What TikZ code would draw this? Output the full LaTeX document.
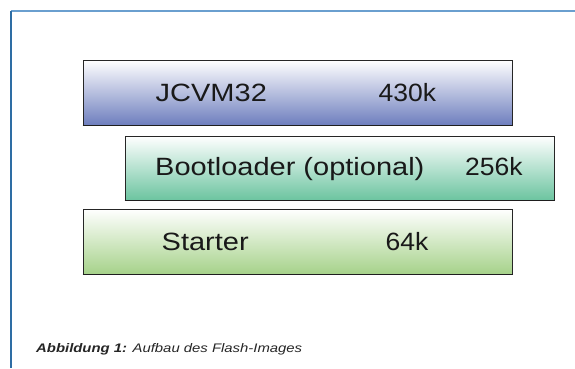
\documentclass[tikz,border=0pt]{standalone}
\usepackage{fontspec}
\setmainfont{Liberation Sans}
\newfontfamily\boxfont[FakeStretch=1.16]{Liberation Sans}
\newfontfamily\numfont[FakeStretch=1.06]{Liberation Sans}
\newfontfamily\capfont[FakeStretch=1.2]{Liberation Sans}
\definecolor{framecol}{HTML}{2E6DA4}
\definecolor{frametop}{HTML}{6A9FCF}
\definecolor{blueB}{HTML}{6E7EBE}
\definecolor{tealB}{HTML}{6CC4A0}
\definecolor{greenB}{HTML}{A6D28A}
\definecolor{edge}{HTML}{262626}
\tikzset{
  layer/.style={draw=edge, line width=1pt, inner sep=0pt, rectangle},
  lbl/.style={font=\boxfont\fontsize{25}{28}\selectfont, inner sep=0pt, anchor=base west, text=black!90},
  numlbl/.style={font=\numfont\fontsize{25}{28}\selectfont, inner sep=0pt, anchor=base west, text=black!90},
  captext/.style={font=\capfont\fontsize{12.4}{14}\selectfont\itshape, inner sep=0pt, anchor=base west, text=black!85}
}
\begin{document}
\begin{tikzpicture}[x=1pt,y=-1pt]
\useasboundingbox (0,0) rectangle (575,368);
\fill[white] (0,0) rectangle (575,368);
\coordinate (fbl) at (11,368);
\coordinate (ftl) at (11,11);
\coordinate (ftr) at (575,11);
\draw[frametop, line width=1.6pt] (ftl) -- (ftr);
\draw[framecol, line width=1.3pt] (fbl) -- (ftl);
\node[layer, minimum width=429pt, minimum height=65pt, top color=white, bottom color=blueB] (jcvm) at (297.5,92.5) {};
\node[layer, minimum width=429pt, minimum height=64pt, top color=white, bottom color=tealB] (boot) at (339.5,168) {};
\node[layer, minimum width=429pt, minimum height=65pt, top color=white, bottom color=greenB] (start) at (297.5,241.5) {};
\draw[edge!80!black, line width=1.6pt] (jcvm.south west) -- (jcvm.south east);
\draw[edge!80!black, line width=1.6pt] (boot.south west) -- (boot.south east);
\draw[edge!80!black, line width=1.6pt] (start.south west) -- (start.south east);
\node[lbl] (jname) at (155.5,101) {JCVM32};
\node[numlbl] (jsize) at (378.5,101) {430k};
\node[lbl] (bname) at (155,175.7) {Bootloader (optional)};
\node[numlbl] (bsize) at (465,175.7) {256k};
\node[lbl] (sname) at (161.5,250.3) {Starter};
\node[numlbl] (ssize) at (385.5,250.3) {64k};
\node[captext] (caption) at (36,352) {\bfseries Abbildung 1:\mdseries{} Aufbau des Flash-Images};
\end{tikzpicture}
\end{document}
